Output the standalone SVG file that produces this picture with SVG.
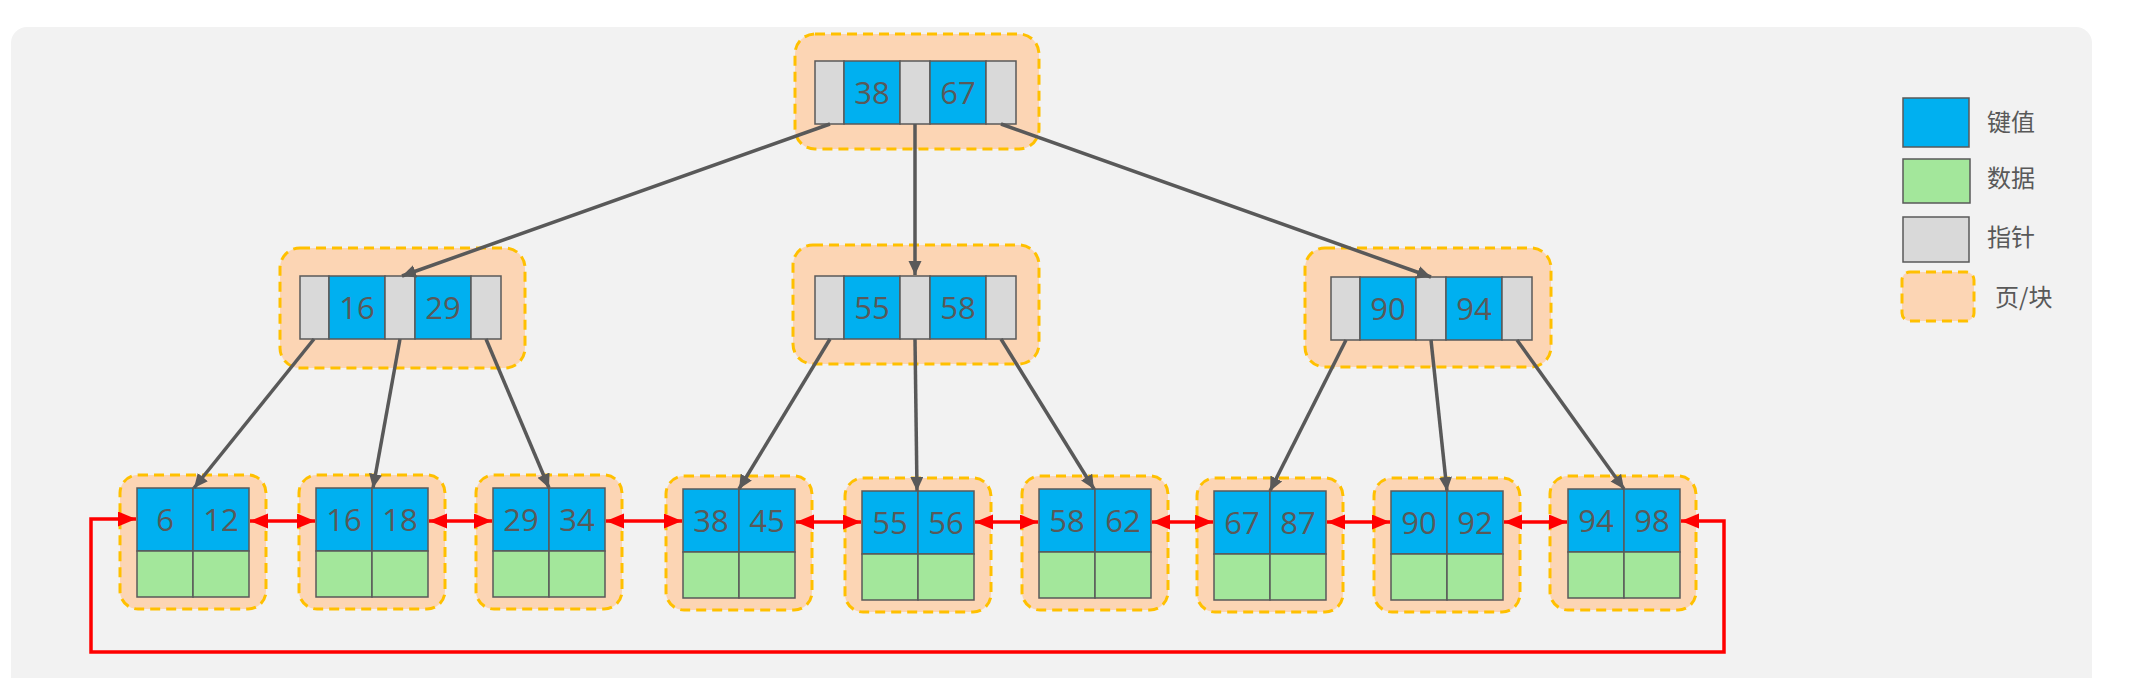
<svg xmlns="http://www.w3.org/2000/svg" width="2143" height="678" viewBox="0 0 2143 678">
<style>
.bg{fill:#f2f2f2}
.page{fill:#fcd5b4;stroke:#ffc000;stroke-width:3;stroke-dasharray:10 6}
.k{fill:#00b0f0;stroke:#595959;stroke-width:1.5}
.d{fill:#a3e79b;stroke:#595959;stroke-width:1.5}
.p{fill:#d9d9d9;stroke:#595959;stroke-width:1.5}
.t{font-family:"Open Sans","Liberation Sans",sans-serif;font-size:31px;fill:#595959;text-anchor:middle}
.lg{font-family:"Noto Sans CJK SC",sans-serif;font-size:24px;fill:#595959}
.c{stroke:#595959;stroke-width:3.5;fill:none;marker-end:url(#ag)}
.r{stroke:#ff0000;stroke-width:3.5;fill:none;marker-start:url(#ar);marker-end:url(#ar)}
</style>
<defs>
<marker id="ag" markerUnits="userSpaceOnUse" markerWidth="16" markerHeight="14" refX="14" refY="6.5" orient="auto"><path d="M0,0 L14,6.5 L0,13 Z" fill="#595959"/></marker>
<marker id="ar" markerUnits="userSpaceOnUse" markerWidth="20" markerHeight="16" refX="18" refY="7.5" orient="auto-start-reverse"><path d="M0,0 L18,7.5 L0,15 Z" fill="#ff0000"/></marker>
</defs>
<rect class="bg" x="11" y="27" width="2081" height="690" rx="16"/>

<g id="root">
<rect class="page" x="795" y="34" width="244" height="115" rx="20"/>
<rect class="p" x="815" y="61" width="29" height="63"/>
<rect class="k" x="844" y="61" width="56" height="63"/>
<rect class="p" x="900" y="61" width="30" height="63"/>
<rect class="k" x="930" y="61" width="56" height="63"/>
<rect class="p" x="986" y="61" width="30" height="63"/>
<text class="t" x="872" y="104">38</text>
<text class="t" x="958" y="104">67</text>
</g>

<g id="n16_29">
<rect class="page" x="280" y="248" width="245" height="120" rx="20"/>
<rect class="p" x="300" y="276" width="29" height="63"/>
<rect class="k" x="329" y="276" width="56" height="63"/>
<rect class="p" x="385" y="276" width="30" height="63"/>
<rect class="k" x="415" y="276" width="56" height="63"/>
<rect class="p" x="471" y="276" width="30" height="63"/>
<text class="t" x="357" y="319">16</text>
<text class="t" x="443" y="319">29</text>
</g>

<g id="n55_58">
<rect class="page" x="793" y="245" width="246" height="119" rx="20"/>
<rect class="p" x="815" y="276" width="29" height="63"/>
<rect class="k" x="844" y="276" width="56" height="63"/>
<rect class="p" x="900" y="276" width="30" height="63"/>
<rect class="k" x="930" y="276" width="56" height="63"/>
<rect class="p" x="986" y="276" width="30" height="63"/>
<text class="t" x="872" y="319">55</text>
<text class="t" x="958" y="319">58</text>
</g>

<g id="n90_94">
<rect class="page" x="1305" y="248" width="246" height="119" rx="20"/>
<rect class="p" x="1331" y="277" width="29" height="63"/>
<rect class="k" x="1360" y="277" width="56" height="63"/>
<rect class="p" x="1416" y="277" width="30" height="63"/>
<rect class="k" x="1446" y="277" width="56" height="63"/>
<rect class="p" x="1502" y="277" width="30" height="63"/>
<text class="t" x="1388" y="320">90</text>
<text class="t" x="1474" y="320">94</text>
</g>

<g id="leaf6_12">
<rect class="page" x="120" y="475" width="146" height="134" rx="18"/>
<rect class="k" x="137" y="488" width="56" height="63"/><rect class="k" x="193" y="488" width="56" height="63"/>
<rect class="d" x="137" y="551" width="56" height="46"/><rect class="d" x="193" y="551" width="56" height="46"/>
<text class="t" x="165" y="531">6</text><text class="t" x="221" y="531">12</text>
</g>
<g id="leaf16_18">
<rect class="page" x="299" y="475" width="146" height="134" rx="18"/>
<rect class="k" x="316" y="488" width="56" height="63"/><rect class="k" x="372" y="488" width="56" height="63"/>
<rect class="d" x="316" y="551" width="56" height="46"/><rect class="d" x="372" y="551" width="56" height="46"/>
<text class="t" x="344" y="531">16</text><text class="t" x="400" y="531">18</text>
</g>
<g id="leaf29_34">
<rect class="page" x="476" y="475" width="146" height="134" rx="18"/>
<rect class="k" x="493" y="488" width="56" height="63"/><rect class="k" x="549" y="488" width="56" height="63"/>
<rect class="d" x="493" y="551" width="56" height="46"/><rect class="d" x="549" y="551" width="56" height="46"/>
<text class="t" x="521" y="531">29</text><text class="t" x="577" y="531">34</text>
</g>
<g id="leaf38_45">
<rect class="page" x="666" y="476" width="146" height="134" rx="18"/>
<rect class="k" x="683" y="489" width="56" height="63"/><rect class="k" x="739" y="489" width="56" height="63"/>
<rect class="d" x="683" y="552" width="56" height="46"/><rect class="d" x="739" y="552" width="56" height="46"/>
<text class="t" x="711" y="532">38</text><text class="t" x="767" y="532">45</text>
</g>
<g id="leaf55_56">
<rect class="page" x="845" y="478" width="146" height="134" rx="18"/>
<rect class="k" x="862" y="491" width="56" height="63"/><rect class="k" x="918" y="491" width="56" height="63"/>
<rect class="d" x="862" y="554" width="56" height="46"/><rect class="d" x="918" y="554" width="56" height="46"/>
<text class="t" x="890" y="534">55</text><text class="t" x="946" y="534">56</text>
</g>
<g id="leaf58_62">
<rect class="page" x="1022" y="476" width="146" height="134" rx="18"/>
<rect class="k" x="1039" y="489" width="56" height="63"/><rect class="k" x="1095" y="489" width="56" height="63"/>
<rect class="d" x="1039" y="552" width="56" height="46"/><rect class="d" x="1095" y="552" width="56" height="46"/>
<text class="t" x="1067" y="532">58</text><text class="t" x="1123" y="532">62</text>
</g>
<g id="leaf67_87">
<rect class="page" x="1197" y="478" width="146" height="134" rx="18"/>
<rect class="k" x="1214" y="491" width="56" height="63"/><rect class="k" x="1270" y="491" width="56" height="63"/>
<rect class="d" x="1214" y="554" width="56" height="46"/><rect class="d" x="1270" y="554" width="56" height="46"/>
<text class="t" x="1242" y="534">67</text><text class="t" x="1298" y="534">87</text>
</g>
<g id="leaf90_92">
<rect class="page" x="1374" y="478" width="146" height="134" rx="18"/>
<rect class="k" x="1391" y="491" width="56" height="63"/><rect class="k" x="1447" y="491" width="56" height="63"/>
<rect class="d" x="1391" y="554" width="56" height="46"/><rect class="d" x="1447" y="554" width="56" height="46"/>
<text class="t" x="1419" y="534">90</text><text class="t" x="1475" y="534">92</text>
</g>
<g id="leaf94_98">
<rect class="page" x="1550" y="476" width="146" height="134" rx="18"/>
<rect class="k" x="1568" y="489" width="56" height="63"/><rect class="k" x="1624" y="489" width="56" height="63"/>
<rect class="d" x="1568" y="552" width="56" height="46"/><rect class="d" x="1624" y="552" width="56" height="46"/>
<text class="t" x="1596" y="532">94</text><text class="t" x="1652" y="532">98</text>
</g>

<g id="connectors">
<line class="c" x1="830" y1="124" x2="402" y2="276"/>
<line class="c" x1="915" y1="124" x2="915" y2="275"/>
<line class="c" x1="1001" y1="124" x2="1431" y2="277"/>
<line class="c" x1="314" y1="339" x2="194" y2="488"/>
<line class="c" x1="400" y1="339" x2="373" y2="488"/>
<line class="c" x1="486" y1="339" x2="549" y2="488"/>
<line class="c" x1="830" y1="339" x2="739" y2="489"/>
<line class="c" x1="915" y1="339" x2="917" y2="491"/>
<line class="c" x1="1001" y1="339" x2="1094" y2="489"/>
<line class="c" x1="1346" y1="340" x2="1270" y2="491"/>
<line class="c" x1="1431" y1="340" x2="1447" y2="491"/>
<line class="c" x1="1517" y1="340" x2="1624" y2="489"/>
<line class="r" x1="250" y1="521" x2="315" y2="521"/>
<line class="r" x1="429" y1="521" x2="492" y2="521"/>
<line class="r" x1="606" y1="521" x2="682" y2="521"/>
<line class="r" x1="796" y1="522" x2="861" y2="522"/>
<line class="r" x1="975" y1="522" x2="1038" y2="522"/>
<line class="r" x1="1152" y1="522" x2="1213" y2="522"/>
<line class="r" x1="1327" y1="522" x2="1390" y2="522"/>
<line class="r" x1="1504" y1="522" x2="1567" y2="522"/>
<polyline class="r" points="1681,521 1724,521 1724,652 91,652 91,519 136,519"/>
</g>

<g id="legend">
<rect class="k" x="1903" y="98" width="66" height="49"/>
<rect class="d" x="1903" y="159" width="67" height="44"/>
<rect class="p" x="1903" y="217" width="66" height="45"/>
<rect class="page" x="1902" y="272" width="72" height="49" rx="8"/>
<text class="lg" x="1987" y="131">键值</text>
<text class="lg" x="1987" y="187">数据</text>
<text class="lg" x="1987" y="246">指针</text>
<text class="lg" x="1995" y="306">页/块</text>
</g>
</svg>
